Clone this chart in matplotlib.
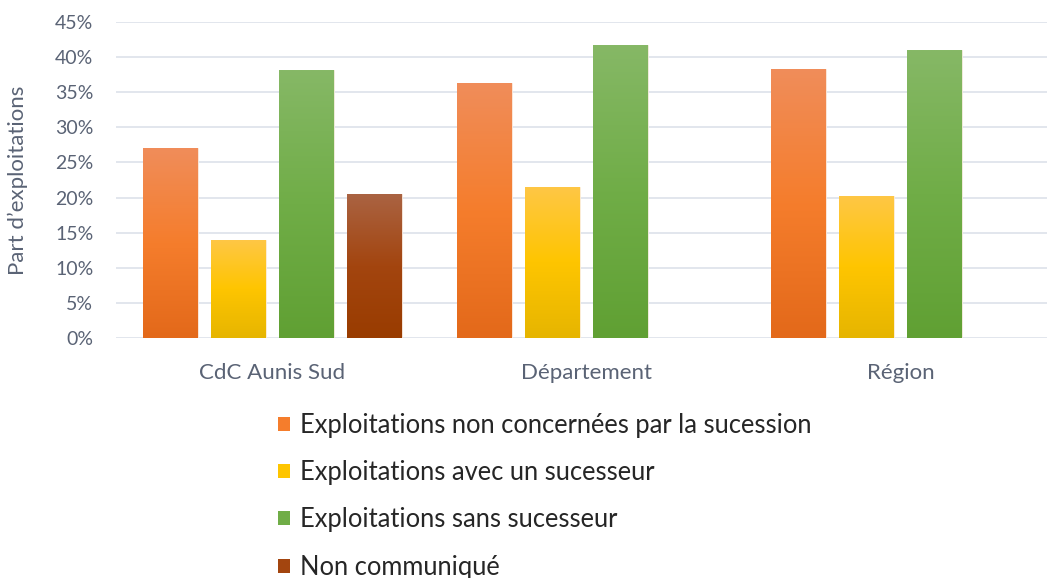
import numpy as np
import matplotlib
matplotlib.use("Agg")
import matplotlib.pyplot as plt
from matplotlib.colors import LinearSegmentedColormap
from matplotlib.patches import Patch

plt.rcParams['font.family'] = ['Lato', 'DejaVu Sans']

categories = ["CdC Aunis Sud", "Département", "Région"]
series = ["Exploitations non concernées par la sucession",
          "Exploitations avec un sucesseur",
          "Exploitations sans sucesseur",
          "Non communiqué"]
non_concernees = [27.0, 36.3, 38.3]
avec_successeur = [13.9, 21.5, 20.2]
sans_successeur = [38.1, 41.7, 41.0]
non_communique = [20.5, np.nan, np.nan]
values = [non_concernees, avec_successeur, sans_successeur, non_communique]

# (top, middle, bottom) gradient stops
grads = [("#F08D5A", "#F57D2C", "#E3691A"),
         ("#FFC745", "#FEC500", "#E6B500"),
         ("#86B866", "#70AD47", "#60A033"),
         ("#AA6342", "#A3450F", "#993C00")]

txt = "#5A6375"
grid = "#DDE2EA"

fig = plt.figure(figsize=(10.47, 5.78), dpi=100)
ax = fig.add_axes([115.5/1047, 240/578, 942/1047, 316/578])

x = np.arange(len(categories))
step = 0.2166
width = 0.175
for i, (vals, g) in enumerate(zip(values, grads)):
    cmap = LinearSegmentedColormap.from_list("g%d" % i, [g[2], g[1], g[0]])
    pos = x + (i - 1.5) * step
    bars = ax.bar(pos, vals, width, color=g[1], edgecolor="#FBEFE6", linewidth=0.6, zorder=2)
    for b, v in zip(bars, vals):
        if np.isnan(v):
            continue
        grad = np.linspace(0, 1, 256).reshape(-1, 1)
        im = ax.imshow(grad, cmap=cmap, origin="lower", aspect="auto",
                       extent=[b.get_x(), b.get_x() + width, 0, v], zorder=2.5)
        im.set_clip_path(b)

ax.set_xlim(-0.5, 2.5)
ax.set_ylim(0, 45)
ax.set_yticks(np.arange(0, 46, 5))
ax.set_yticklabels(["%d%%" % t for t in range(0, 46, 5)])
ax.set_xticks(x)
ax.set_xticklabels(categories)
ax.yaxis.grid(True, color=grid, linewidth=1.2, zorder=0)
ax.set_axisbelow(True)
for s in ax.spines.values():
    s.set_visible(False)
ax.tick_params(axis="y", length=0, colors=txt, labelsize=14, pad=16)
ax.tick_params(axis="x", length=0, colors=txt, labelsize=16, pad=18)
ax.set_ylabel("Part d’exploitations", color=txt, fontsize=16)
ax.yaxis.set_label_coords(-88/942, 0.5)

handles = [Patch(facecolor=g[1]) for g in grads]
fig.legend(handles, series, loc="upper left", bbox_to_anchor=(255/1047, 1 - 390/578),
           frameon=False, fontsize=18.4, handlelength=0.47, handleheight=0.47,
           handletextpad=0.4, labelspacing=0.87, labelcolor="#262626")

fig.savefig("out.png", dpi=100)
